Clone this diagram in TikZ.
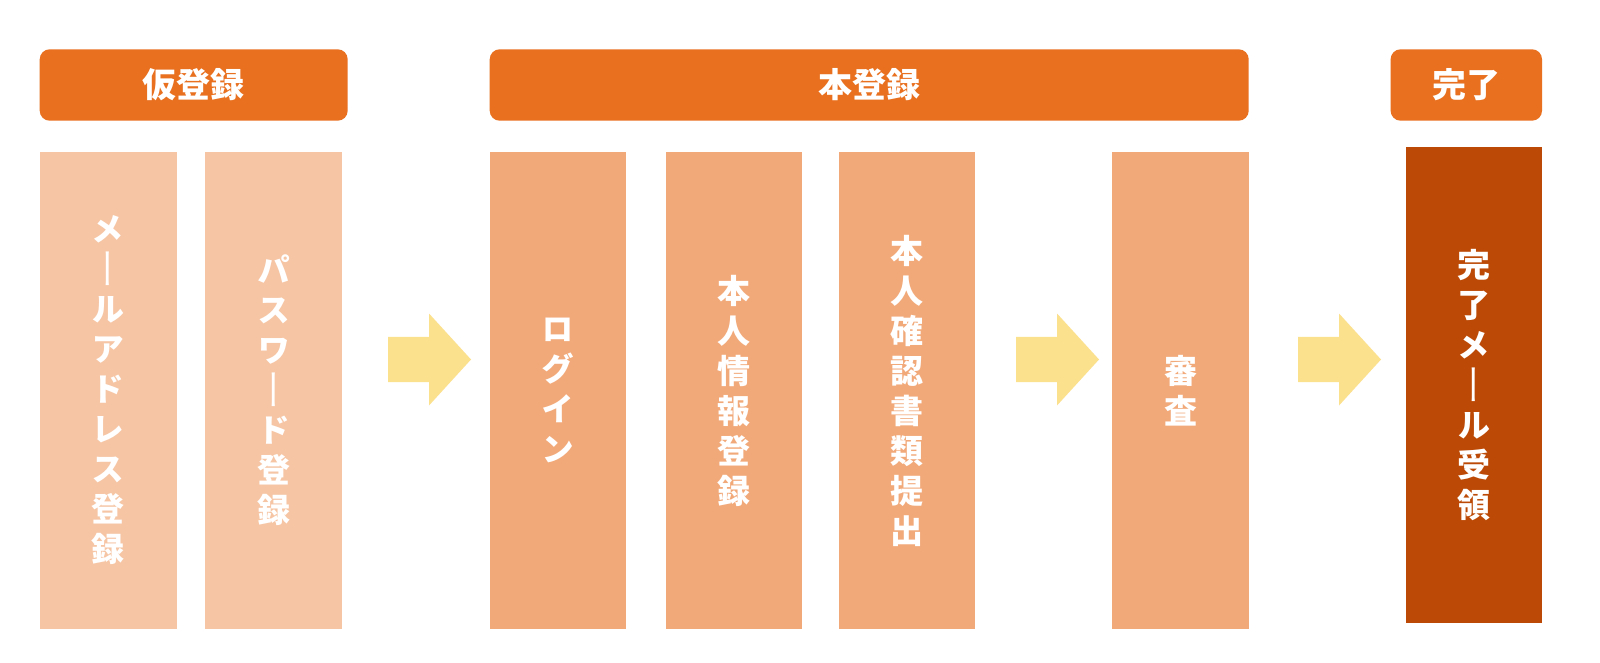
\documentclass[tikz,border=0pt]{standalone}
\usepackage{graphicx}
\usepackage{fontspec}
\newfontfamily\cjk{Noto Sans CJK JP}
\newfontfamily\cjkv{Noto Sans CJK JP}[RawFeature=+vert]
\newcommand\chouon{\raisebox{-3.8pt}{\scalebox{1}[1.3]{\mdseries ー}}}
\definecolor{hdrc}{HTML}{E8701F}
\definecolor{lightc}{HTML}{F6C5A4}
\definecolor{midc}{HTML}{F2A979}
\definecolor{darkc}{HTML}{BC4A06}
\definecolor{arrc}{HTML}{FBE08E}
\begin{document}
\begin{tikzpicture}[x=1pt,y=-1pt,
  hdr/.style={fill=hdrc, rounded corners=10pt, text=white, inner sep=0pt,
    minimum height=71.4pt, font=\cjk\bfseries\fontsize{34}{40}\selectfont},
  stepbox/.style={text=white, inner sep=0pt, align=center,
    minimum width=136pt, minimum height=477pt,
    font=\cjkv\bfseries\fontsize{33}{40}\selectfont},
  lightbox/.style={stepbox, fill=lightc},
  midbox/.style={stepbox, fill=midc},
  darkbox/.style={stepbox, fill=darkc},
  blockarr/.style={fill=arrc}]
\useasboundingbox (0,0) rectangle (1600,663);
\fill[white] (0,0) rectangle (1600,663);
% headers
\node[hdr, minimum width=308pt] (h1) at (193.7,85) {仮登録};
\node[hdr, minimum width=759pt] (h2) at (869.2,85) {本登録};
\node[hdr, minimum width=151.4pt] (h3) at (1466.3,85) {完了};
% step boxes
\node[lightbox, minimum width=137.2pt] (b1) at (108.1,390.5) {メ\\\chouon\\ル\\ア\\ド\\レ\\ス\\登\\録};
\node[lightbox, minimum width=136.8pt] (b2) at (273.6,390.5) {パ\\ス\\ワ\\\chouon\\ド\\登\\録};
\node[midbox, minimum width=135.7pt] (b3) at (557.9,390.5) {ロ\\グ\\イ\\ン};
\node[midbox, minimum width=135.6pt] (b4) at (734.2,390.5) {本\\人\\情\\報\\登\\録};
\node[midbox, minimum width=136pt] (b5) at (906.9,390.5) {本\\人\\確\\認\\書\\類\\提\\出};
\node[midbox, minimum width=136.4pt] (b6) at (1180.5,390.5) {審\\査};
\node[darkbox, minimum width=135.6pt, minimum height=476pt] (b7) at (1473.8,385) {完\\了\\メ\\\chouon\\ル\\受\\領};
% block arrows
\coordinate (a1) at (388,359.5);
\coordinate (a2) at (1016,359.5);
\coordinate (a3) at (1298,359.5);
\foreach \a in {a1,a2,a3}{
  \fill[blockarr] (\a) ++(0,-22.7) -- ++(41,0) -- ++(0,-23.3) -- ++(42,46)
    -- ++(-42,46) -- ++(0,-23.3) -- ++(-41,0) -- cycle;
}
\end{tikzpicture}
\end{document}
